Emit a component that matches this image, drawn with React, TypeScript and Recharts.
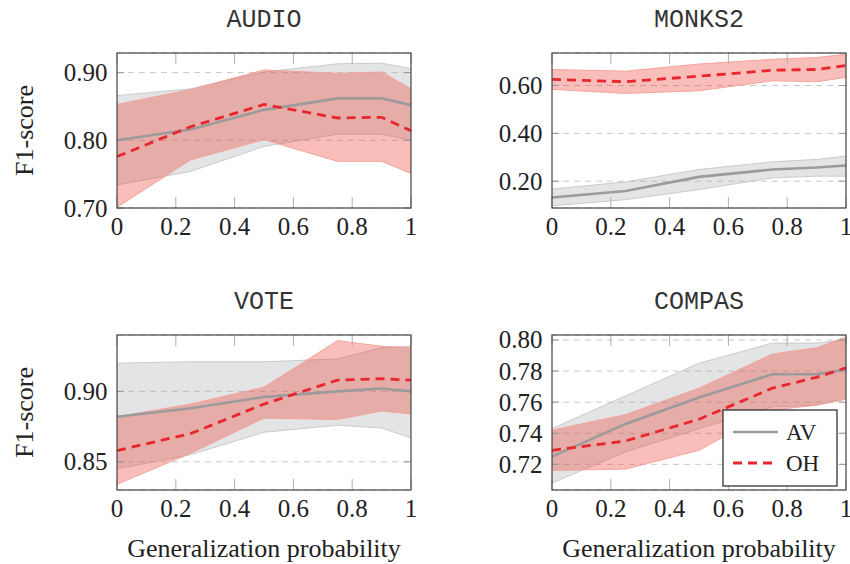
import { ComposedChart, Area, Line, XAxis, YAxis, CartesianGrid } from 'recharts'

// generalization probability (x) shared by all four datasets
const genProb = [0, 0.25, 0.5, 0.75, 0.9, 1]
const xTicks = [0, 0.2, 0.4, 0.6, 0.8, 1]

const audioAvMean = [0.800, 0.816, 0.845, 0.862, 0.862, 0.852]
const audioAvLow = [0.734, 0.754, 0.791, 0.809, 0.809, 0.800]
const audioAvHigh = [0.866, 0.876, 0.901, 0.913, 0.914, 0.906]
const audioOhMean = [0.776, 0.820, 0.853, 0.833, 0.834, 0.814]
const audioOhLow = [0.701, 0.771, 0.801, 0.769, 0.769, 0.751]
const audioOhHigh = [0.853, 0.875, 0.904, 0.899, 0.901, 0.876]

const monksAvMean = [0.132, 0.159, 0.218, 0.249, 0.257, 0.266]
const monksAvLow = [0.097, 0.123, 0.165, 0.214, 0.221, 0.221]
const monksAvHigh = [0.167, 0.197, 0.249, 0.281, 0.291, 0.305]
const monksOhMean = [0.626, 0.616, 0.639, 0.664, 0.667, 0.684]
const monksOhLow = [0.584, 0.567, 0.578, 0.620, 0.616, 0.634]
const monksOhHigh = [0.667, 0.660, 0.690, 0.710, 0.717, 0.731]

const voteAvMean = [0.882, 0.888, 0.896, 0.900, 0.902, 0.900]
const voteAvLow = [0.845, 0.855, 0.871, 0.876, 0.874, 0.867]
const voteAvHigh = [0.920, 0.921, 0.921, 0.923, 0.931, 0.932]
const voteOhMean = [0.858, 0.870, 0.891, 0.908, 0.909, 0.908]
const voteOhLow = [0.834, 0.856, 0.881, 0.880, 0.886, 0.884]
const voteOhHigh = [0.882, 0.891, 0.903, 0.936, 0.932, 0.931]

const compasAvMean = [0.725, 0.746, 0.763, 0.778, 0.778, 0.781]
const compasAvLow = [0.708, 0.728, 0.743, 0.757, 0.758, 0.762]
const compasAvHigh = [0.743, 0.764, 0.785, 0.798, 0.798, 0.800]
const compasOhMean = [0.729, 0.735, 0.749, 0.769, 0.776, 0.782]
const compasOhLow = [0.716, 0.717, 0.729, 0.755, 0.758, 0.762]
const compasOhHigh = [0.742, 0.752, 0.769, 0.791, 0.795, 0.802]

const SERIF = '"Liberation Serif", Tinos, "DejaVu Serif", "Noto Serif", serif'
const MONO = '"Liberation Mono", "Courier New", monospace'
const GRAY = '#9b9b9b'
const RED = '#e8262d'

const PLOT_W = 294
const PLOT_H = 155
const AXIS_W = 70
const PAD = 16

const serifText = { fontFamily: SERIF, fontSize: 25, fill: '#222' }

const buildRows = (avM: number[], avL: number[], avH: number[], ohM: number[], ohL: number[], ohH: number[]) =>
  genProb.map((x, i) => ({
    x,
    av: avM[i],
    avBand: [avL[i], avH[i]],
    oh: ohM[i],
    ohBand: [ohL[i], ohH[i]],
  }))

const XTick = ({ x, payload }: any) => {
  const v = payload.value
  const label = v === 0 || v === 1 ? String(v) : v.toFixed(1)
  return (
    <g>
      <line x1={x} x2={x} y1={PAD + PLOT_H} y2={PAD + PLOT_H - 11} stroke="#b0b0b0" />
      <line x1={x} x2={x} y1={PAD} y2={PAD + 11} stroke="#b0b0b0" />
      <text x={x} y={PAD + PLOT_H + 27} textAnchor="middle" style={serifText}>{label}</text>
    </g>
  )
}

const makeYTick = (digits: number) => ({ y, payload }: any) => (
  <g>
    <line x1={AXIS_W} x2={AXIS_W + 7} y1={y} y2={y} stroke="#999" />
    <line x1={AXIS_W + PLOT_W - 7} x2={AXIS_W + PLOT_W} y1={y} y2={y} stroke="#999" />
    <text x={AXIS_W - 9.5} y={y + 8.5} textAnchor="end" style={serifText}>
      {payload.value.toFixed(digits)}
    </text>
  </g>
)

function Panel({ left, top, rows, domain, ticks, digits }: any) {
  return (
    <div style={{ position: 'absolute', left: left - AXIS_W, top: top - PAD }}>
      <ComposedChart
        width={AXIS_W + PLOT_W + PAD}
        height={PAD + PLOT_H + 45}
        data={rows}
        margin={{ top: PAD, right: PAD, bottom: 0, left: 0 }}
      >
        <CartesianGrid vertical={false} stroke="#c8c8c8" strokeDasharray="6 5" />
        <XAxis dataKey="x" type="number" domain={[0, 1]} ticks={xTicks} height={45}
          axisLine={false} tickLine={false} tick={<XTick />} interval={0} />
        <YAxis type="number" domain={domain} ticks={ticks} width={AXIS_W} allowDataOverflow
          axisLine={false} tickLine={false} tick={makeYTick(digits)} interval={0} />
        <Area type="linear" dataKey="avBand" fill="#a0a4ab" fillOpacity={0.3} stroke="#c9cbce" strokeWidth={1} isAnimationActive={false} />
        <Area type="linear" dataKey="ohBand" fill="#ee3b2a" fillOpacity={0.33} stroke="#f4a49c" strokeWidth={1} isAnimationActive={false} />
        <Line type="linear" dataKey="av" stroke={GRAY} strokeWidth={2.6} dot={false} isAnimationActive={false} />
        <Line type="linear" dataKey="oh" stroke={RED} strokeWidth={2.8} strokeDasharray="9 6" dot={false} isAnimationActive={false} />
      </ComposedChart>
    </div>
  )
}

const panels = [
  { title: 'AUDIO', left: 117, top: 53, rows: buildRows(audioAvMean, audioAvLow, audioAvHigh, audioOhMean, audioOhLow, audioOhHigh), domain: [0.70, 0.929], ticks: [0.7, 0.8, 0.9], digits: 2 },
  { title: 'MONKS2', left: 552, top: 53, rows: buildRows(monksAvMean, monksAvLow, monksAvHigh, monksOhMean, monksOhLow, monksOhHigh), domain: [0.088, 0.736], ticks: [0.2, 0.4, 0.6], digits: 2 },
  { title: 'VOTE', left: 117, top: 335, rows: buildRows(voteAvMean, voteAvLow, voteAvHigh, voteOhMean, voteOhLow, voteOhHigh), domain: [0.830, 0.940], ticks: [0.85, 0.9], digits: 2 },
  { title: 'COMPAS', left: 552, top: 335, rows: buildRows(compasAvMean, compasAvLow, compasAvHigh, compasOhMean, compasOhLow, compasOhHigh), domain: [0.7035, 0.8032], ticks: [0.72, 0.74, 0.76, 0.78, 0.8], digits: 2 },
]

export default function App() {
  return (
    <div style={{ position: 'absolute', left: 0, top: 0, width: 850, height: 564, background: '#fff', overflow: 'hidden' }}>
      {panels.map((p) => (
        <Panel key={p.title} {...p} />
      ))}
      <svg width={850} height={564} style={{ position: 'absolute', left: 0, top: 0, pointerEvents: 'none' }}>
        {panels.map((p) => (
          <g key={p.title}>
            <rect x={p.left} y={p.top} width={PLOT_W} height={PLOT_H} fill="none" stroke="#444" strokeWidth={1.2} />
            <text x={p.left + PLOT_W / 2} y={p.top - 26} textAnchor="middle" style={{ fontFamily: MONO, fontSize: 25, fill: '#333' }}>{p.title}</text>
          </g>
        ))}
        {[53, 335].map((t) => (
          <text key={t} x={33} y={t + PLOT_H / 2} transform={`rotate(-90, 33, ${t + PLOT_H / 2})`} textAnchor="middle"
            style={{ ...serifText, fontSize: 26 }}>F1-score</text>
        ))}
        {[117, 552].map((l) => (
          <text key={l} x={l + PLOT_W / 2} y={557} textAnchor="middle" style={{ ...serifText, fontSize: 26 }}>Generalization probability</text>
        ))}
        <g>
          <rect x={723} y={410} width={114} height={76} fill="#fff" stroke="#222" strokeWidth={1.2} />
          <line x1={733} x2={778} y1={432} y2={432} stroke={GRAY} strokeWidth={2.6} />
          <text x={786} y={439.5} style={{ ...serifText, fontSize: 23 }}>AV</text>
          <line x1={733} x2={778} y1={463} y2={463} stroke={RED} strokeWidth={2.8} strokeDasharray="9 6" />
          <text x={786} y={471} style={{ ...serifText, fontSize: 23 }}>OH</text>
        </g>
      </svg>
    </div>
  )
}
